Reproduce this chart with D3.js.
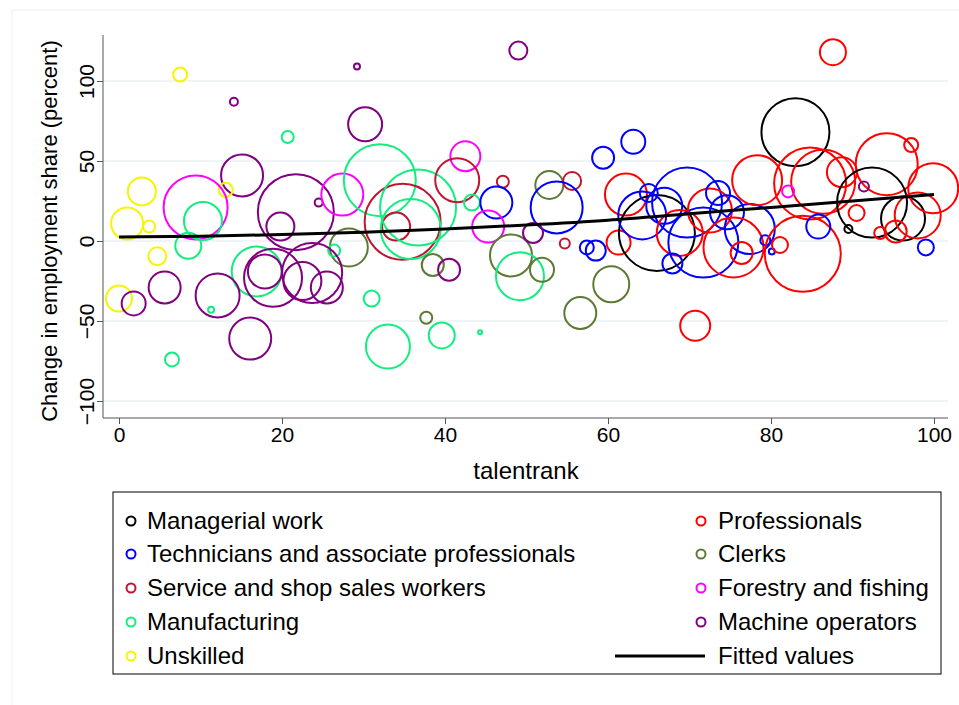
<!DOCTYPE html>
<html><head><meta charset="utf-8">
<script src="https://cdn.jsdelivr.net/npm/d3@7"></script>
<style>body{margin:0;background:#fff}svg{font-family:"Liberation Sans",Arial,sans-serif}</style>
</head><body><svg id="c" width="959" height="705"></svg>
<script>
const categories = ["Managerial work","Technicians and associate professionals","Service and shop sales workers","Manufacturing","Unskilled","Professionals","Clerks","Forestry and fishing","Machine operators"];
const colors = ["#000000","#0000ff","#c0152f","#11ee7f","#f5f500","#ff0000","#5b7a34","#ff00ff","#800080"];
// [category index, talentrank, change, weight]
const points = [
[4,7.5,104,49],[8,29.2,109,9],[8,14.1,87,16],[8,49,119,81],[3,20.7,65,36],[8,30.2,73,289],
[7,42.5,53,225],[4,2.8,31,196],[8,15.1,41,441],[4,13.1,32,49],[7,9.4,21,1024],[3,10.3,12.5,361],
[4,1,11,256],[4,3.7,9,36],[8,21.7,18,1444],[8,19.8,9,196],[8,24.5,24,16],[7,27.4,29,441],
[3,32,38,1296],[2,34.8,12,1444],[2,34,9,196],[3,36.7,21,1444],[3,35.8,7.5,900],[2,41.5,38,484],
[2,47.1,37,36],[3,43.3,24,64],[1,46.3,24,256],[7,45.3,9,256],[6,28.2,-4,361],[3,26.4,-6,36],
[3,8.5,-3,169],[4,4.7,-9.5,81],[3,16.9,-19,625],[8,17.9,-19,289],[8,18.9,-23,841],[8,23.7,-20,900],
[8,22.5,-25,361],[8,25.5,-29,256],[6,38.5,-15,121],[8,40.5,-18,121],[6,48.1,-9,441],[3,49.2,-22,576],
[8,5.6,-29,256],[8,12.1,-34,484],[4,0,-36,169],[8,1.8,-39,144],[3,11.3,-43,9],[3,31,-36,64],
[8,16.1,-61,441],[3,6.5,-74,49],[3,33,-66,484],[6,37.7,-48,36],[3,39.6,-59,169],[3,44.3,-57,4],
[5,87.6,118,169],[0,83,68,1156],[1,59.4,52,121],[1,63.1,62,144],[6,52.8,35,196],[2,55.6,37.5,81],
[1,53.7,21,676],[8,50.8,5,100],[2,54.7,-1.5,25],[6,51.9,-18,144],[1,57.4,-4,49],[1,58.5,-6,100],
[6,60.4,-27,324],[6,56.6,-45,256],[5,62.2,29,441],[5,61.3,-1,144],[0,66,5,1444],[1,64.2,16,576],
[1,65,30,81],[1,66.9,22,324],[1,69.7,24,1225],[5,68.8,5,529],[1,67.9,-14,100],[1,71.7,-1,1225],
[5,72.5,19,484],[1,73.5,30,144],[1,74.6,18,289],[1,77.4,7.5,625],[5,75.4,-4,900],[5,76.4,-7.5,121],
[5,78.3,38,625],[5,70.7,-53,225],[1,79.3,0.5,25],[1,80.1,-6.5,9],[5,81.1,-2.5,64],[5,83.9,-8,1444],
[5,84.8,36,1296],[5,86.4,37,1024],[7,82.1,31,36],[1,85.8,9,144],[5,88.7,43,225],[5,94.2,48,961],
[5,97.2,60,49],[8,91.4,34,25],[0,92.4,24,1225],[5,90.5,17.5,64],[0,89.5,7.5,16],[0,96.2,14,484],
[5,98,16,529],[5,99.9,33,625],[5,93.4,5,36],[5,95.3,6,121],[1,99,-4,64]
];
const fitX = [0,10,20,30,40,50,60,70,80,90,100];
const fitY = [2.5,3,4,5.5,7.5,10,13,17,21,25,29];
const yTicks = [-100,-50,0,50,100];
const xTicks = [0,20,40,60,80,100];

const svg = d3.select("#c");
const x = d3.scaleLinear().domain([0,100]).range([119,934]);
const y = d3.scaleLinear().domain([-100,100]).range([401,81]);
const r = d3.scaleSqrt().domain([0,1444]).range([0,38]);
const L = 103, R = 948, T = 35, B = 418;

svg.append("rect").attr("x",12).attr("y",10).attr("width",960).attr("height",710)
  .attr("fill","none").attr("stroke","#eef0f0");

svg.append("g").selectAll("line").data(yTicks).join("line")
  .attr("x1",L).attr("x2",R).attr("y1",d=>y(d)).attr("y2",d=>y(d))
  .attr("stroke","#eaf2f3").attr("stroke-width",1.5);

svg.append("g").selectAll("circle").data(points).join("circle")
  .attr("cx",d=>x(d[1])).attr("cy",d=>y(d[2])).attr("r",d=>Math.max(2,r(d[3])))
  .attr("fill","none").attr("stroke",d=>colors[d[0]]).attr("stroke-width",2);

svg.append("path").datum(fitX.map((v,i)=>[v,fitY[i]]))
  .attr("d",d3.line().x(d=>x(d[0])).y(d=>y(d[1])).curve(d3.curveMonotoneX))
  .attr("fill","none").attr("stroke","#000").attr("stroke-width",3);

// axes
const ya = svg.append("g").attr("transform",`translate(${L},0)`)
  .call(d3.axisLeft(y).tickValues(yTicks).tickSize(6).tickSizeOuter(0));
ya.select(".domain").attr("d",`M0,${T}V${B}`).attr("stroke","#555");
ya.selectAll(".tick line").attr("stroke","#555");
ya.selectAll(".tick text").attr("font-size",21).attr("fill","#000")
  .attr("transform","rotate(-90)").attr("text-anchor","middle").attr("x",0).attr("y",-9).attr("dy","0");

const xa = svg.append("g").attr("transform",`translate(0,${B})`)
  .call(d3.axisBottom(x).tickValues(xTicks).tickSize(6).tickSizeOuter(0));
xa.select(".domain").attr("d",`M${L},0H${R}`).attr("stroke","#555");
xa.selectAll(".tick line").attr("stroke","#555");
xa.selectAll(".tick text").attr("font-size",21).attr("fill","#000").attr("y",9);

svg.append("text").attr("transform","translate(57,231) rotate(-90)").attr("text-anchor","middle")
  .attr("font-size",22).text("Change in employment share (percent)");
svg.append("text").attr("x",526).attr("y",479).attr("text-anchor","middle").attr("font-size",24).text("talentrank");

// legend
svg.append("rect").attr("x",113).attr("y",492).attr("width",828).attr("height",182)
  .attr("fill","none").attr("stroke","#000").attr("stroke-width",1);
const rowY = [521,554,588,622,656];
const leftIdx = [0,1,2,3,4], rightIdx = [5,6,7,8];
const lg = svg.append("g").attr("font-size",24);
leftIdx.forEach((c,i)=>{
  lg.append("circle").attr("cx",131).attr("cy",rowY[i]).attr("r",4.5).attr("fill","none").attr("stroke",colors[c]).attr("stroke-width",2);
  lg.append("text").attr("x",147).attr("y",rowY[i]+8).text(categories[c]);
});
rightIdx.forEach((c,i)=>{
  lg.append("circle").attr("cx",701).attr("cy",rowY[i]).attr("r",4.5).attr("fill","none").attr("stroke",colors[c]).attr("stroke-width",2);
  lg.append("text").attr("x",718).attr("y",rowY[i]+8).text(categories[c]);
});
lg.append("line").attr("x1",615).attr("x2",705).attr("y1",656).attr("y2",656).attr("stroke","#000").attr("stroke-width",3);
lg.append("text").attr("x",718).attr("y",664).text("Fitted values");
</script></body></html>
